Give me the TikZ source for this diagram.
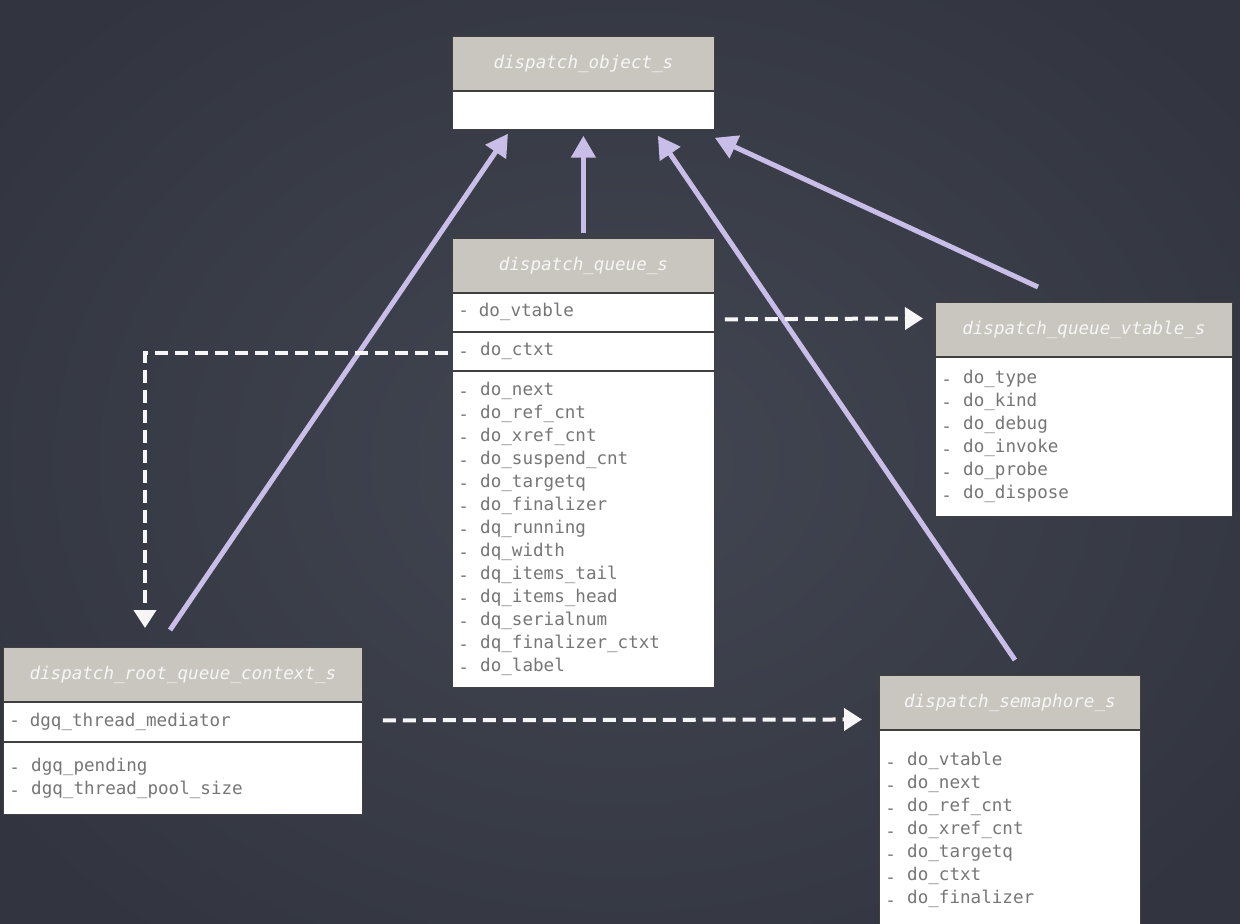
\documentclass[tikz,border=0pt]{standalone}
\usepackage{fontspec}
\setmonofont{DejaVu Sans Mono}
\usetikzlibrary{positioning,calc,arrows.meta}

\definecolor{boardlight}{RGB}{66,70,82}
\definecolor{boarddark}{RGB}{50,53,63}
\definecolor{hdrgrey}{RGB}{200,198,190}
\definecolor{fieldgrey}{RGB}{118,118,118}
\definecolor{lilac}{RGB}{200,190,232}
\definecolor{chalk}{RGB}{246,246,246}

% one field of a struct: dash, gap, name
\newcommand{\fitem}[1]{\makebox[12.4pt][l]{\raisebox{-1.2pt}{-}}#1}
\newcommand{\fkey}[1]{\makebox[11.6pt][l]{-}#1}

\begin{document}
\begin{tikzpicture}[x=0.02cm, y=-0.02cm,
    hdr/.style={rectangle, draw=black!75, line width=0.5pt, fill=hdrgrey,
        minimum height=1.08cm, inner sep=0pt, text=chalk,
        font=\ttfamily\itshape\fontsize{10}{13.1}\selectfont},
    fld/.style={rectangle, draw=black!75, line width=0.5pt, fill=white,
        inner xsep=0.12cm, inner ysep=0pt, align=left, text=fieldgrey,
        font=\ttfamily\fontsize{10}{13.1}\selectfont},
    inherit/.style={lilac, line width=0.1cm, -{Triangle[length=0.44cm, width=0.48cm]}},
    ref/.style={chalk, line width=0.08cm, dash pattern=on 0.26cm off 0.14cm,
        -{Triangle[length=0.36cm, width=0.44cm]}}
]
    \useasboundingbox (0,0) rectangle (1240,923);
    \clip (0,0) rectangle (1240,923);
    \shade[inner color=boardlight, outer color=boarddark] (-150,-150) rectangle (1390,1073);

    % dispatch_object_s
    \node[hdr, minimum width=5.24cm, anchor=north west] (objhead) at (452,36) {dispatch\_object\_s};
    \node[fld, text width=5cm, minimum height=0.76cm, below=0pt of objhead] (objbody) {};

    % dispatch_queue_s
    \node[hdr, minimum width=5.24cm, anchor=north west] (qhead) at (452,238) {dispatch\_queue\_s};
    \node[fld, text width=5cm, minimum height=0.76cm, below=0pt of qhead] (qvtab) {\fkey{do\_vtable}};
    \node[fld, text width=5cm, minimum height=0.76cm, below=0pt of qvtab] (qctxt) {\fitem{do\_ctxt}};
    \node[fld, text width=5cm, minimum height=6.32cm, below=0pt of qctxt] (qlist) {%
        \fitem{do\_next}\\\fitem{do\_ref\_cnt}\\\fitem{do\_xref\_cnt}\\\fitem{do\_suspend\_cnt}\\%
        \fitem{do\_targetq}\\\fitem{do\_finalizer}\\\fitem{dq\_running}\\\fitem{dq\_width}\\%
        \fitem{dq\_items\_tail}\\\fitem{dq\_items\_head}\\\fitem{dq\_serialnum}\\%
        \fitem{dq\_finalizer\_ctxt}\\\fitem{do\_label}\\[5pt]};

    % dispatch_queue_vtable_s
    \node[hdr, minimum width=5.94cm, anchor=north west] (vthead) at (935,302) {dispatch\_queue\_vtable\_s};
    \node[fld, text width=5.7cm, minimum height=3.18cm, below=0pt of vthead] (vtlist) {%
        \fitem{do\_type}\\\fitem{do\_kind}\\\fitem{do\_debug}\\\fitem{do\_invoke}\\%
        \fitem{do\_probe}\\\fitem{do\_dispose}};

    % dispatch_root_queue_context_s
    \node[hdr, minimum width=7.18cm, anchor=north west] (rqhead) at (3,647) {dispatch\_root\_queue\_context\_s};
    \node[fld, text width=6.94cm, minimum height=0.78cm, below=0pt of rqhead] (rqmed) {\fkey{dgq\_thread\_mediator}};
    \node[fld, text width=6.94cm, minimum height=1.44cm, below=0pt of rqmed] (rqlist) {%
        \fitem{dgq\_pending}\\\fitem{dgq\_thread\_pool\_size}};

    % dispatch_semaphore_s
    \node[hdr, minimum width=5.22cm, anchor=north west] (semhead) at (879,675) {dispatch\_semaphore\_s};
    \node[fld, text width=4.98cm, minimum height=4.0cm, below=0pt of semhead] (semlist) {%
        \fitem{do\_vtable}\\\fitem{do\_next}\\\fitem{do\_ref\_cnt}\\\fitem{do\_xref\_cnt}\\%
        \fitem{do\_targetq}\\\fitem{do\_ctxt}\\\fitem{do\_finalizer}\\[10pt]};

    % inheritance
    \draw[inherit] ($(rqhead.north west)+(167,-17)$) -- ($(objbody.south west)+(56,4)$);
    \draw[inherit] ($(qhead.north)+(0,-5)$) -- ($(objbody.south)+(0,6)$);
    \draw[inherit] ($(semhead.north west)+(136,-15)$) -- ($(objbody.south east)+(-57,6)$);
    \draw[inherit] ($(vthead.north west)+(103,-15)$) -- ($(objbody.south east)+(0,8)$);

    % references
    \draw[ref] ($(qvtab.east)+(10,7)$) -- ($(vthead.west)+(-12,-11)$);
    \draw[ref] ($(qctxt.west)+(-4,1.5)$) -| ($(rqhead.north west)+(142,-19)$);
    \draw[ref] ($(rqmed.east)+(20,-1.5)$) -- ($(semhead.west)+(-17,17)$);
\end{tikzpicture}
\end{document}
